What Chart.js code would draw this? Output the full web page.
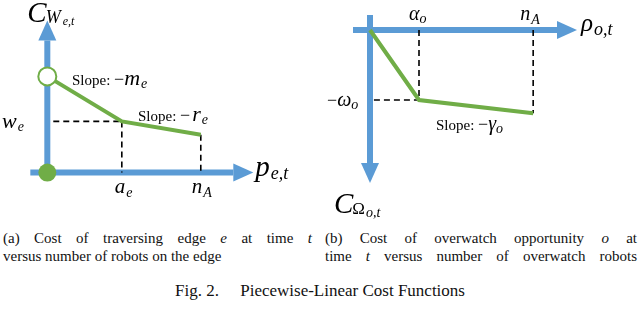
<!DOCTYPE html>
<html>
<head>
<meta charset="utf-8">
<script src="https://cdn.jsdelivr.net/npm/chart.js@4"></script>
<style>
  body { margin: 0; background: #fff; width: 640px; height: 309px; overflow: hidden; position: relative; }
  canvas { position: absolute; top: 0; }
  .cap { position: absolute; font: 15px "Liberation Serif", "Times New Roman", serif; line-height: 18px; color: #111; }
  .j { text-align: justify; text-align-last: justify; }
  #fig { position: absolute; left: 0; width: 640px; top: 281px; text-align: center; font: 17px "Liberation Serif", "Times New Roman", serif; color: #111; }
</style>
</head>
<body>
<canvas id="graficoA" width="320" height="215" style="left:0"></canvas>
<canvas id="graficoB" width="320" height="225" style="left:320px"></canvas>

<div class="cap" style="left:3px; top:229px; width:309px;">
  <div class="j">(a) Cost of traversing edge <i>e</i> at time <i>t</i></div>
  <div>versus number of robots on the edge</div>
</div>
<div class="cap" style="left:325px; top:229px; width:312px;">
  <div class="j">(b) Cost of overwatch opportunity <i>o</i> at</div>
  <div class="j">time <i>t</i> versus number of overwatch robots</div>
</div>
<div id="fig">Fig. 2.&nbsp;&nbsp;&nbsp;&nbsp;&nbsp;Piecewise-Linear Cost Functions</div>

<script>
// (a) custo de atravessar a aresta: 0, a_e, n_A
const arestaX = [0, 1, 2.06];
const arestaY = [1.88, 1, 0.74];   // inicio, w_e, fim

// (b) custo de overwatch: 0, alpha_o, n_A
const vigiaX = [0, 1, 3.33];
const vigiaY = [0, -1, -1.19];     // 0, -omega_o, fim

const AZUL = "#5b9bd5";
const VERDE = "#70ad47";
const FONTE = '"Liberation Serif", "Times New Roman", serif';

Chart.defaults.animation = false;
Chart.defaults.plugins.legend.display = false;
Chart.defaults.plugins.tooltip.enabled = false;

function pontos(xs, ys) {
    return xs.map((x, i) => ({ x: x, y: ys[i] }));
}

function tracejado(p1, p2) {
    return {
        data: [p1, p2],
        showLine: true,
        borderColor: "#000",
        borderWidth: 1.6,
        borderDash: [6, 4],
        pointRadius: 0,
        order: 3
    };
}

// escreve texto matematico em partes (tamanho, italico, deslocamento)
function escrever(ctx, x, y, partes) {
    let cx = x;
    partes.forEach(p => {
        ctx.font = (p.it ? "italic " : "") + p.s + "px " + FONTE;
        ctx.fillText(p.t, cx + (p.dx || 0), y + (p.dy || 0));
        cx += ctx.measureText(p.t).width + (p.dx || 0);
    });
}

function seta(ctx, x1, y1, x2, y2) {
    const ang = Math.atan2(y2 - y1, x2 - x1);
    const L = 20, W = 9;
    const bx = x2 - L * Math.cos(ang), by = y2 - L * Math.sin(ang);
    ctx.strokeStyle = AZUL;
    ctx.fillStyle = AZUL;
    ctx.lineWidth = 6;
    ctx.beginPath();
    ctx.moveTo(x1, y1);
    ctx.lineTo(bx, by);
    ctx.stroke();
    ctx.beginPath();
    ctx.moveTo(x2, y2);
    ctx.lineTo(bx - W * Math.sin(ang), by + W * Math.cos(ang));
    ctx.lineTo(bx + W * Math.sin(ang), by - W * Math.cos(ang));
    ctx.closePath();
    ctx.fill();
}

function opcoes(xmin, xmax, ymin, ymax) {
    return {
        responsive: false,
        layout: { padding: 0 },
        scales: {
            x: { type: "linear", min: xmin, max: xmax, display: false },
            y: { type: "linear", min: ymin, max: ymax, display: false }
        }
    };
}

// ---------- grafico (a) ----------
const eixosA = {
    id: "eixosA",
    beforeDatasetsDraw(chart) {
        const ctx = chart.ctx, sx = chart.scales.x, sy = chart.scales.y;
        const x0 = sx.getPixelForValue(0), y0 = sy.getPixelForValue(0);
        ctx.save();
        seta(ctx, x0, y0 + 6, x0, y0 - 152);
        seta(ctx, x0 - 17, y0, x0 + 206, y0);
        ctx.restore();
    },
    afterDraw(chart) {
        const ctx = chart.ctx, sx = chart.scales.x, sy = chart.scales.y;
        const x0 = sx.getPixelForValue(0), y0 = sy.getPixelForValue(0);
        const xa = sx.getPixelForValue(arestaX[1]), xn = sx.getPixelForValue(arestaX[2]);
        const yw = sy.getPixelForValue(arestaY[1]);
        ctx.save();
        ctx.fillStyle = "#000";
        escrever(ctx, x0 - 20, 22, [
            { t: "C", s: 29, it: true },
            { t: "W", s: 18, it: true, dx: -1, dy: 1 },
            { t: "e,t", s: 12, it: true, dx: 2, dy: 3 }
        ]);
        escrever(ctx, x0 + 208, y0 + 3, [
            { t: "p", s: 29, it: true },
            { t: "e,t", s: 18, it: true, dx: 1, dy: 3 }
        ]);
        escrever(ctx, 2, yw + 7, [
            { t: "w", s: 22, it: true },
            { t: "e", s: 14, it: true, dx: 1, dy: 3 }
        ]);
        escrever(ctx, xa - 7, y0 + 20, [
            { t: "a", s: 21, it: true },
            { t: "e", s: 14, it: true, dx: 1, dy: 4 }
        ]);
        escrever(ctx, xn - 9, y0 + 20, [
            { t: "n", s: 21, it: true },
            { t: "A", s: 14, it: true, dx: 1, dy: 4 }
        ]);
        escrever(ctx, 72, 85, [
            { t: "Slope: ", s: 15 },
            { t: "\u2212", s: 18 },
            { t: "m", s: 22, it: true },
            { t: "e", s: 14, it: true, dx: 1, dy: 3 }
        ]);
        escrever(ctx, 138, 121, [
            { t: "Slope: ", s: 15 },
            { t: "\u2212", s: 18 },
            { t: "r", s: 22, it: true, dx: 2 },
            { t: "e", s: 14, it: true, dx: 1, dy: 3 }
        ]);
        ctx.restore();
    }
};

const ptsA = pontos(arestaX, arestaY);
new Chart(document.getElementById("graficoA"), {
    type: "scatter",
    data: {
        datasets: [
            {
                data: [{ x: 0, y: arestaY[0] }],
                pointRadius: 9, pointBorderWidth: 2,
                pointBackgroundColor: "#fff", pointBorderColor: VERDE, order: 1
            },
            {
                data: [{ x: 0, y: 0 }],
                pointRadius: 9, pointBorderWidth: 0,
                pointBackgroundColor: VERDE, order: 1
            },
            {
                data: ptsA, showLine: true, borderColor: VERDE,
                borderWidth: 4, pointRadius: 0, order: 2
            },
            tracejado({ x: 0.08, y: arestaY[1] }, { x: arestaX[1], y: arestaY[1] }),
            tracejado({ x: arestaX[1], y: arestaY[1] }, { x: arestaX[1], y: 0 }),
            tracejado({ x: arestaX[2], y: arestaY[2] }, { x: arestaX[2], y: 0 })
        ]
    },
    options: opcoes(-39 / 80, -39 / 80 + 320 / 80, 180 / 57 - 215 / 57, 180 / 57),
    plugins: [eixosA]
});

// ---------- grafico (b) ----------
const eixosB = {
    id: "eixosB",
    beforeDatasetsDraw(chart) {
        const ctx = chart.ctx, sx = chart.scales.x, sy = chart.scales.y;
        const x0 = sx.getPixelForValue(0), y0 = sy.getPixelForValue(0);
        ctx.save();
        seta(ctx, x0 - 17, y0, x0 + 207, y0);
        seta(ctx, x0, y0 - 15, x0, y0 + 153);
        ctx.restore();
    },
    afterDraw(chart) {
        const ctx = chart.ctx, sx = chart.scales.x, sy = chart.scales.y;
        const x0 = sx.getPixelForValue(0), y0 = sy.getPixelForValue(0);
        const xa = sx.getPixelForValue(vigiaX[1]), xn = sx.getPixelForValue(vigiaX[2]);
        const yw = sy.getPixelForValue(vigiaY[1]);
        ctx.save();
        ctx.fillStyle = "#000";
        escrever(ctx, xa - 10, y0 - 10, [
            { t: "\u03b1", s: 20, it: true },
            { t: "o", s: 14, it: true, dx: 0, dy: 3 }
        ]);
        escrever(ctx, xn - 13, y0 - 10, [
            { t: "n", s: 20, it: true },
            { t: "A", s: 14, it: true, dx: 1, dy: 4 }
        ]);
        escrever(ctx, x0 + 211, y0 + 1, [
            { t: "\u03c1", s: 25, it: true },
            { t: "o,t", s: 18, it: true, dx: 1, dy: 4 }
        ]);
        escrever(ctx, x0 - 43, yw + 6, [
            { t: "\u2212", s: 18 },
            { t: "\u03c9", s: 20, it: true },
            { t: "o", s: 14, it: true, dx: 0, dy: 3 }
        ]);
        escrever(ctx, 116, 130, [
            { t: "Slope: ", s: 15 },
            { t: "\u2212", s: 18 },
            { t: "\u03b3", s: 20, it: true },
            { t: "o", s: 14, it: true, dx: 0, dy: 3 }
        ]);
        escrever(ctx, x0 - 36, 213, [
            { t: "C", s: 29, it: true },
            { t: "\u03a9", s: 17, dx: -1, dy: 1 },
            { t: "o,t", s: 14, it: true, dx: 1, dy: 4 }
        ]);
        ctx.restore();
    }
};

const ptsB = pontos(vigiaX, vigiaY);
new Chart(document.getElementById("graficoB"), {
    type: "scatter",
    data: {
        datasets: [
            {
                data: ptsB, showLine: true, borderColor: VERDE,
                borderWidth: 4, pointRadius: 0, order: 2
            },
            tracejado({ x: vigiaX[1], y: 0 }, { x: vigiaX[1], y: vigiaY[1] }),
            tracejado({ x: 0.08, y: vigiaY[1] }, { x: vigiaX[1], y: vigiaY[1] }),
            tracejado({ x: vigiaX[2], y: 0 }, { x: vigiaX[2], y: vigiaY[2] })
        ]
    },
    options: opcoes(-50 / 49, -50 / 49 + 320 / 49, 30 / 70 - 225 / 70, 30 / 70),
    plugins: [eixosB]
});
</script>
</body>
</html>
